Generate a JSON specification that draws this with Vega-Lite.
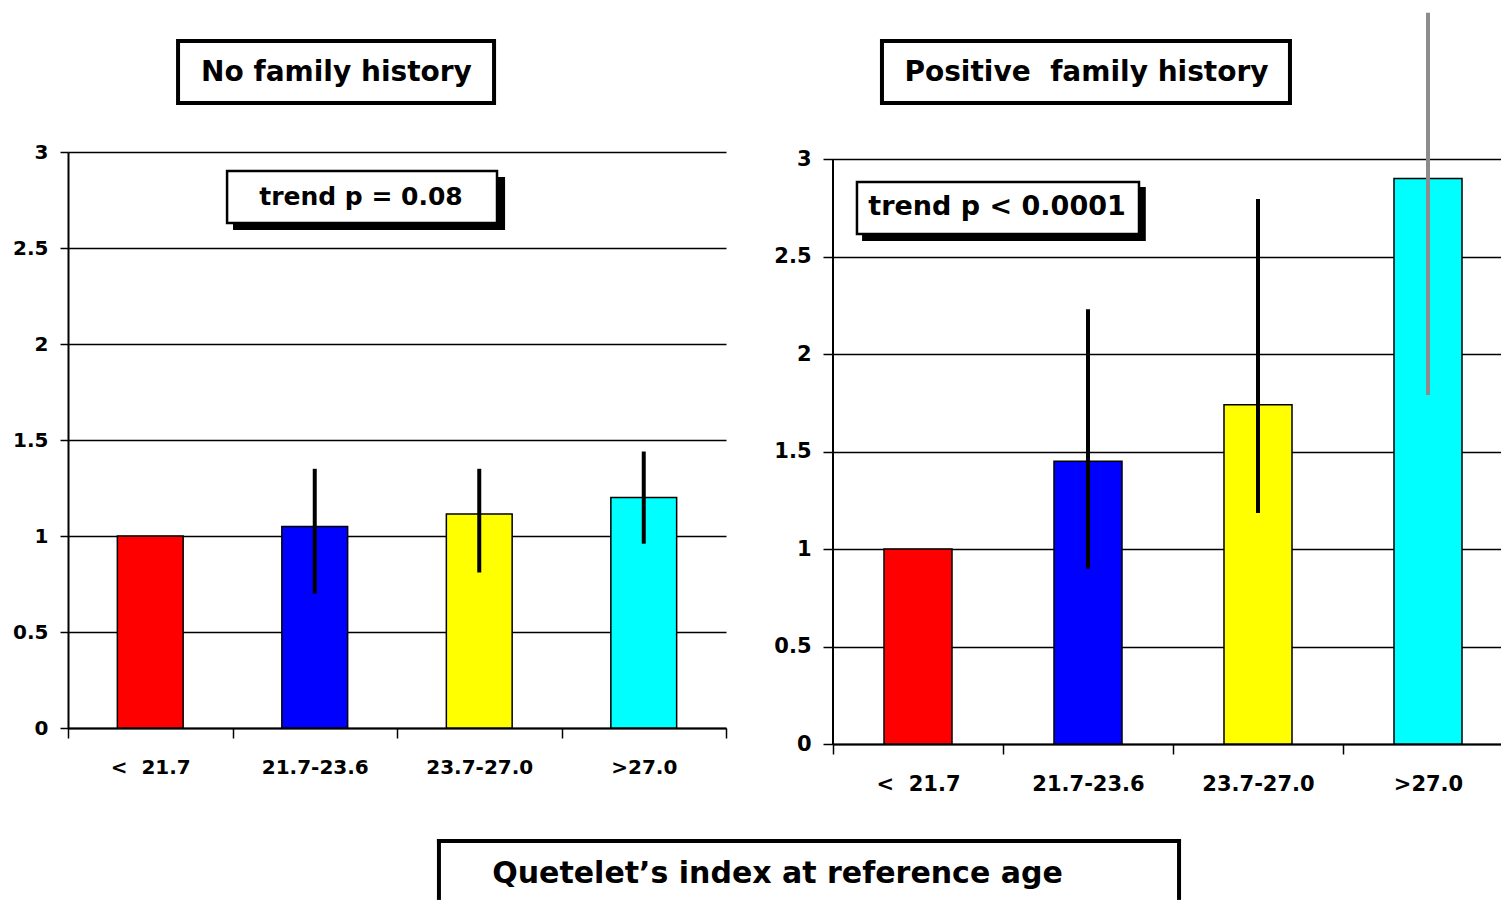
{
  "$schema": "https://vega.github.io/schema/vega-lite/v6.json",
  "padding": {"left": 12, "top": 10, "right": 0, "bottom": 0},
  "spacing": 107,
  "bounds": "flush",
  "datasets": {
    "nofam": [
      {"bmi": "<\u00a0\u00a021.7", "rr": 1.0},
      {"bmi": "21.7-23.6", "rr": 1.05, "lo": 0.70, "hi": 1.35},
      {"bmi": "23.7-27.0", "rr": 1.115, "lo": 0.81, "hi": 1.35},
      {"bmi": ">27.0", "rr": 1.20, "lo": 0.96, "hi": 1.44}
    ],
    "posfam": [
      {"bmi": "<\u00a0\u00a021.7", "rr": 1.0},
      {"bmi": "21.7-23.6", "rr": 1.45, "lo": 0.90, "hi": 2.23},
      {"bmi": "23.7-27.0", "rr": 1.74, "lo": 1.185, "hi": 2.795},
      {"bmi": ">27.0", "rr": 2.90, "lo": 1.79, "hi": 3.75}
    ]
  },
  "config": {
    "view": {"stroke": null},
    "axis": {"labelFont": "DejaVu Sans", "labelFontWeight": "bold", "labelColor": "black"}
  },
  "hconcat": [
    {
      "width": 658,
      "height": 576,
      "data": {"name": "nofam"},
      "resolve": {"scale": {"x": "independent"}},
      "layer": [
        {
          "layer": [
            {
              "mark": {"type": "bar", "width": {"band": 0.4}, "stroke": "black", "strokeWidth": 1.5},
              "encoding": {
                "x": {"field": "bmi", "type": "nominal", "sort": null,
                  "scale": {"domain": ["<\u00a0\u00a021.7", "21.7-23.6", "23.7-27.0", ">27.0"], "paddingInner": 0, "paddingOuter": 0},
                  "axis": {"title": null, "labelAngle": 0, "labelFontSize": 20, "tickBand": "extent", "tickSize": 10, "tickColor": "black", "tickWidth": 1.5, "domainColor": "black", "domainWidth": 2, "labelPadding": 19, "grid": false}},
                "y": {"field": "rr", "type": "quantitative",
                  "scale": {"domain": [0, 3], "nice": false, "zero": true},
                  "axis": {"title": null, "values": [0, 0.5, 1, 1.5, 2, 2.5, 3], "format": "~g", "labelFontSize": 20, "tickSize": 8, "tickColor": "black", "tickWidth": 1.5, "labelPadding": 12, "grid": true, "gridColor": "black", "gridWidth": 1.5, "gridOpacity": 1, "domainColor": "black", "domainWidth": 2}},
                "color": {"field": "bmi", "type": "nominal",
                  "scale": {"domain": ["<\u00a0\u00a021.7", "21.7-23.6", "23.7-27.0", ">27.0"], "range": ["#ff0000", "#0000ff", "#ffff00", "#00ffff"]},
                  "legend": null}
              }
            },
            {
              "mark": {"type": "rule", "strokeWidth": 4, "color": "black"},
              "encoding": {
                "x": {"field": "bmi", "type": "nominal", "sort": null},
                "y": {"field": "lo", "type": "quantitative"},
                "y2": {"field": "hi"}
              }
            }
          ]
        },
        {
          "data": {"values": [{}]},
          "layer": [
            {
              "mark": {"type": "rect", "fill": "white", "stroke": "black", "strokeWidth": 4},
              "encoding": {
                "x": {"datum": 0.669, "type": "quantitative", "scale": {"domain": [0, 4], "nice": false, "zero": false}, "axis": null},
                "x2": {"datum": 2.590},
                "y": {"datum": 3.578, "type": "quantitative"},
                "y2": {"datum": 3.255}
              }
            },
            {
              "mark": {"type": "text", "font": "DejaVu Sans", "fontWeight": "bold", "fontSize": 28, "align": "center", "baseline": "middle", "color": "black"},
              "encoding": {
                "x": {"datum": 1.632, "type": "quantitative", "axis": null},
                "y": {"datum": 3.411, "type": "quantitative"},
                "text": {"value": "No family history"}
              }
            },
            {
              "mark": {"type": "rect", "fill": "black"},
              "encoding": {
                "x": {"datum": 1.003, "type": "quantitative", "axis": null},
                "x2": {"datum": 2.657},
                "y": {"datum": 2.870, "type": "quantitative"},
                "y2": {"datum": 2.594}
              }
            },
            {
              "mark": {"type": "rect", "fill": "white", "stroke": "black", "strokeWidth": 2.5},
              "encoding": {
                "x": {"datum": 0.967, "type": "quantitative", "axis": null},
                "x2": {"datum": 2.608},
                "y": {"datum": 2.901, "type": "quantitative"},
                "y2": {"datum": 2.630}
              }
            },
            {
              "mark": {"type": "text", "font": "DejaVu Sans", "fontWeight": "bold", "fontSize": 25, "align": "center", "baseline": "middle", "color": "black"},
              "encoding": {
                "x": {"datum": 1.781, "type": "quantitative", "axis": null},
                "y": {"datum": 2.766, "type": "quantitative"},
                "text": {"value": "trend p = 0.08"}
              }
            },
            {
              "mark": {"type": "rule", "strokeWidth": 4, "strokeCap": "square", "color": "black"},
              "encoding": {
                "x": {"datum": 2.255, "type": "quantitative", "axis": null},
                "y": {"datum": -0.589, "type": "quantitative"},
                "y2": {"datum": -0.885}
              }
            },
            {
              "mark": {"type": "rule", "strokeWidth": 4, "strokeCap": "square", "color": "black"},
              "encoding": {
                "x": {"datum": 6.754, "type": "quantitative", "axis": null},
                "y": {"datum": -0.589, "type": "quantitative"},
                "y2": {"datum": -0.885}
              }
            },
            {
              "mark": {"type": "rule", "strokeWidth": 4, "strokeCap": "square", "color": "black"},
              "encoding": {
                "x": {"datum": 2.255, "type": "quantitative", "axis": null},
                "x2": {"datum": 6.754},
                "y": {"datum": -0.589, "type": "quantitative"}
              }
            },
            {
              "mark": {"type": "text", "font": "DejaVu Sans", "fontWeight": "bold", "fontSize": 30, "align": "center", "baseline": "middle", "color": "black"},
              "encoding": {
                "x": {"datum": 4.313, "type": "quantitative", "axis": null},
                "y": {"datum": -0.760, "type": "quantitative"},
                "text": {"value": "Quetelet\u2019s index at reference age"}
              }
            }
          ]
        }
      ]
    },
    {
      "width": 680,
      "height": 592,
      "data": {"name": "posfam"},
      "resolve": {"scale": {"x": "independent"}},
      "layer": [
        {
          "layer": [
            {
              "mark": {"type": "bar", "width": {"band": 0.4}, "stroke": "black", "strokeWidth": 1.5},
              "encoding": {
                "x": {"field": "bmi", "type": "nominal", "sort": null,
                  "scale": {"domain": ["<\u00a0\u00a021.7", "21.7-23.6", "23.7-27.0", ">27.0"], "paddingInner": 0, "paddingOuter": 0},
                  "axis": {"title": null, "labelAngle": 0, "labelFontSize": 21, "tickBand": "extent", "tickSize": 10, "tickColor": "black", "tickWidth": 1.5, "domainColor": "black", "domainWidth": 2, "labelPadding": 19, "grid": false}},
                "y": {"field": "rr", "type": "quantitative",
                  "scale": {"domain": [0, 3.036], "nice": false, "zero": true},
                  "axis": {"title": null, "values": [0, 0.5, 1, 1.5, 2, 2.5, 3], "format": "~g", "labelFontSize": 21, "tickSize": 10, "tickColor": "black", "tickWidth": 1.5, "labelPadding": 12, "grid": true, "gridColor": "black", "gridWidth": 1.5, "gridOpacity": 1, "domain": false}},
                "color": {"field": "bmi", "type": "nominal",
                  "scale": {"domain": ["<\u00a0\u00a021.7", "21.7-23.6", "23.7-27.0", ">27.0"], "range": ["#ff0000", "#0000ff", "#ffff00", "#00ffff"]},
                  "legend": null}
              }
            },
            {
              "mark": {"type": "rule", "strokeWidth": 4},
              "encoding": {
                "x": {"field": "bmi", "type": "nominal", "sort": null},
                "y": {"field": "lo", "type": "quantitative"},
                "y2": {"field": "hi"},
                "color": {"condition": {"test": "datum.bmi === '>27.0'", "value": "#8c8c8c"}, "value": "black"}
              }
            }
          ]
        },
        {
          "data": {"values": [{}]},
          "layer": [
            {
              "mark": {"type": "rule", "strokeWidth": 2, "color": "black"},
              "encoding": {
                "x": {"datum": 0, "type": "quantitative", "scale": {"domain": [0, 4], "nice": false, "zero": false}, "axis": null},
                "y": {"datum": 0, "type": "quantitative"},
                "y2": {"datum": 3}
              }
            },
            {
              "mark": {"type": "rect", "fill": "white", "stroke": "black", "strokeWidth": 4},
              "encoding": {
                "x": {"datum": 0.288, "type": "quantitative", "axis": null},
                "x2": {"datum": 2.688},
                "y": {"datum": 3.605, "type": "quantitative"},
                "y2": {"datum": 3.287}
              }
            },
            {
              "mark": {"type": "text", "font": "DejaVu Sans", "fontWeight": "bold", "fontSize": 28, "align": "center", "baseline": "middle", "color": "black"},
              "encoding": {
                "x": {"datum": 1.491, "type": "quantitative", "axis": null},
                "y": {"datum": 3.441, "type": "quantitative"},
                "text": {"value": "Positive\u00a0\u00a0family history"}
              }
            },
            {
              "mark": {"type": "rect", "fill": "black"},
              "encoding": {
                "x": {"datum": 0.171, "type": "quantitative", "axis": null},
                "x2": {"datum": 1.840},
                "y": {"datum": 2.856, "type": "quantitative"},
                "y2": {"datum": 2.579}
              }
            },
            {
              "mark": {"type": "rect", "fill": "white", "stroke": "black", "strokeWidth": 2.5},
              "encoding": {
                "x": {"datum": 0.141, "type": "quantitative", "axis": null},
                "x2": {"datum": 1.800},
                "y": {"datum": 2.882, "type": "quantitative"},
                "y2": {"datum": 2.615}
              }
            },
            {
              "mark": {"type": "text", "font": "DejaVu Sans", "fontWeight": "bold", "fontSize": 27, "align": "center", "baseline": "middle", "color": "black"},
              "encoding": {
                "x": {"datum": 0.965, "type": "quantitative", "axis": null},
                "y": {"datum": 2.754, "type": "quantitative"},
                "text": {"value": "trend p < 0.0001"}
              }
            }
          ]
        }
      ]
    }
  ]
}
